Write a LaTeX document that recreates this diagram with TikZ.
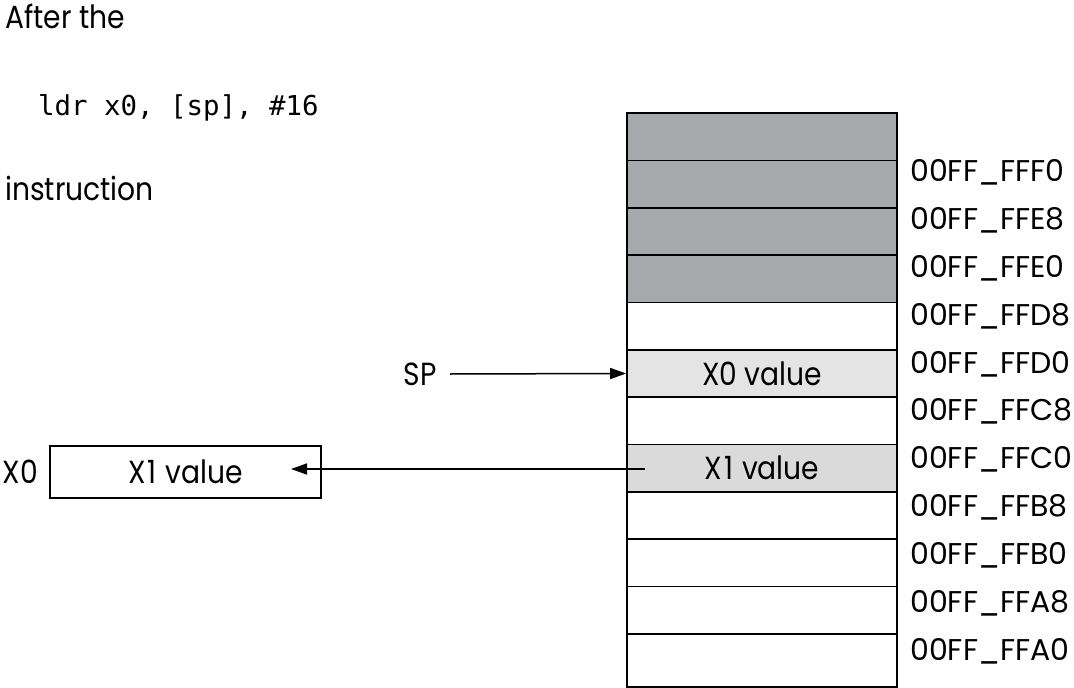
\documentclass[tikz,border=0pt]{standalone}
\usepackage{fontspec}
\setmainfont{Poppins}[FakeStretch=0.88]
\newfontfamily\addrfont{Poppins}
\setmonofont{DejaVu Sans Mono}
\usetikzlibrary{arrows.meta}
\definecolor{darkcell}{HTML}{A7A8AB}
\definecolor{lightcell}{HTML}{E4E4E4}
\definecolor{midcell}{HTML}{DADADA}
\newcommand{\xonev}{X\kern2pt 1\hspace{9pt}value}
\begin{document}
\begin{tikzpicture}[x=1pt,y=-1pt,
  txt/.style={font=\fontsize{32}{34}\selectfont, inner sep=0pt},
  cell/.style={draw=black, line width=1.7pt, minimum width=270pt, inner sep=0pt, font=\fontsize{32}{34}\selectfont},
  addr/.style={anchor=base west, inner sep=0pt, font=\addrfont\fontsize{30}{32}\selectfont},
  arr/.style={line width=1.5pt, -{Triangle[length=16pt,width=11pt]}}]
\useasboundingbox (0,0) rectangle (1074,688);
% stack cells
\foreach \i/\f in {0/darkcell,1/darkcell,2/darkcell,3/darkcell,4/white,5/lightcell,6/white,7/midcell,8/white,9/white,10/white}{
  \node[cell, fill=\f, minimum height=47.36pt] (c\i) at (762, 113+47.36*\i+23.68) {};
}
\node[cell, fill=white, minimum height=53pt] (c11) at (762, 660.5) {};
\node[txt] (x0v) at (c5.center) {X0 value};
\node[txt] (x1v) at (c7.center) {\xonev};
% address labels
\foreach \k/\t in {0/00FF\_FFF0,1/00FF\_FFE8,2/00FF\_FFE0,3/00FF\_FFD8,4/00FF\_FFD0,5/00FF\_FFC8,6/00FF\_FFC0,7/00FF\_FFB8,8/00FF\_FFB0,9/00FF\_FFA8,10/00FF\_FFA0}{
  \node[addr] (a\k) at (910, 181.7+47.83*\k) {\t};
}
% header text
\node[txt, anchor=base west] (after) at (5,28) {After the};
\node[anchor=base west, inner sep=0pt, font=\fontsize{27.4}{30}\selectfont\ttfamily] (instr) at (38,115) {ldr x0, [sp], \#16};
\node[txt, anchor=base west] (instruction) at (5,200) {instruction};
% SP pointer
\node[txt, anchor=east] (sp) at (437,374) {SP};
\coordinate (spstart) at (450,374);
\draw[arr] (spstart) -- (c5.west);
% X0 register
\node[draw=black, line width=1.6pt, minimum width=271pt, minimum height=52pt, inner sep=0pt, font=\fontsize{32}{34}\selectfont] (reg) at (185.5,472) {\xonev};
\node[txt, anchor=east] (x0lbl) at (38,472) {X0};
\coordinate (src) at (645,469);
\coordinate (dst) at (291,469);
\draw[arr] (src) -- (dst);
\end{tikzpicture}
\end{document}
